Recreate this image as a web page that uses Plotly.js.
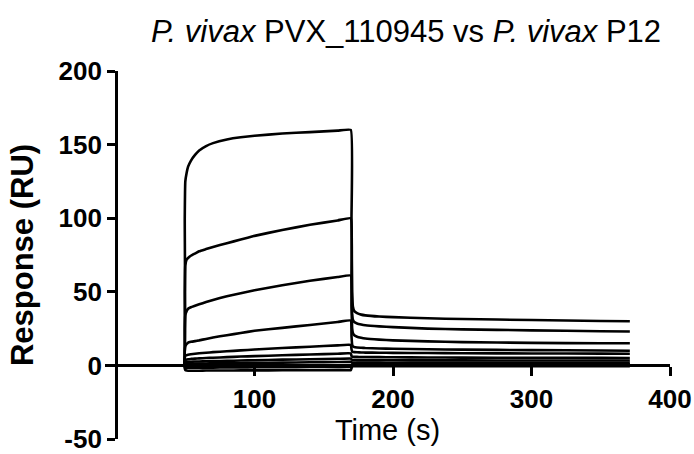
<!DOCTYPE html>
<html>
<head>
<meta charset="utf-8">
<script src="https://cdn.plot.ly/plotly-3.0.1.min.js"></script>
<style>html,body{margin:0;padding:0;background:#fff;}#chart{width:694px;height:454px;}</style>
</head>
<body>
<div id="chart"></div>
<script>
// Time points (s)
const time = [-8, 48, 49.3, 49.6, 50, 51, 52, 54, 57, 60, 65, 70, 80, 90, 100, 120, 140, 160, 169.5,
  170, 170.5, 171, 172, 174, 177, 180, 190, 200, 225, 250, 300, 350, 371];

// Response (RU) for each concentration, highest to lowest
const curveA = [0,0,0, 100,125,131,135,139,143,146,149,151,153.5,155,156,157.5,158.5,159.5,160,
  100,50,40,37,35.5,34.5,34,33.2,32.8,32,31.5,30.8,30.2,30];
const curveB = [0,0,0, 50,68,72,73,74.5,76,77.5,79,80.5,83,85.5,88,92,95.5,98.5,100,
  60,35,31,29.5,28.5,27.8,27.3,26.5,26,25,24.5,23.8,23.2,23];
const curveC = [0,0,0, 25,34,37,38.5,39.5,40.5,41.5,43,44.5,47,49,51,54.5,57.5,60,61,
  40,25,22,20.5,19.5,18.8,18.3,17.5,17,16.3,15.8,15.3,15,15];
const curveD = [0,0,0, 10,13,14.5,15.5,16,16.5,17,18,19,20.5,22,23.5,25.5,27.5,29.5,30.5,
  20,14,13,12.5,12.2,12,11.8,11.5,11.3,11,10.7,10.4,10.1,10];
const curveE = [0,0,0, 5,6.5,7,7.3,7.6,7.9,8.2,8.6,9,9.6,10.2,10.8,11.8,12.7,13.6,14,
  11,9.5,9.2,9,8.9,8.8,8.7,8.6,8.5,8.4,8.3,8.1,8,7.9];
const curveF = [0,0,0, 3,3.6,4,4.2,4.4,4.6,4.8,5,5.2,5.6,6,6.3,6.9,7.4,7.9,8.2,
  6.5,6,5.9,5.8,5.8,5.7,5.7,5.6,5.5,5.4,5.3,5.2,5.1,5];
const curveG = [0,0,0, 1.5,2,2.3,2.4,2.5,2.6,2.7,2.8,2.9,3.1,3.3,3.5,3.9,4.2,4.5,4.7,
  4,3.8,3.7,3.7,3.6,3.6,3.6,3.5,3.5,3.4,3.4,3.3,3.3,3.3];
const curveH = [0,0,0, 0.5,0.8,1,1.1,1.1,1.2,1.2,1.3,1.4,1.5,1.6,1.7,1.9,2.1,2.3,2.4,
  2.2,2,2,2,1.9,1.9,1.9,1.9,1.8,1.8,1.8,1.7,1.7,1.7];
const curveI = [0,0,0, -1,-1.5,-1.6,-1.6,-1.6,-1.6,-1.5,-1.5,-1.5,-1.4,-1.4,-1.3,-1.2,-1.1,-1,-1,
  0,0.8,1,1,1,1,1,0.9,0.9,0.9,0.8,0.8,0.8,0.8];
const curveJ = [0,0,0, -2,-3.2,-3.5,-3.6,-3.6,-3.6,-3.6,-3.5,-3.5,-3.5,-3.4,-3.4,-3.3,-3.3,-3.2,-3.2,
  -2,-0.8,-0.6,-0.5,-0.5,-0.5,-0.5,-0.5,-0.5,-0.5,-0.5,-0.5,-0.5,-0.5];

const curves = [curveA, curveB, curveC, curveD, curveE, curveF, curveG, curveH, curveI, curveJ];

const xTicks = [100, 200, 300, 400];
const yTicks = [-50, 0, 50, 100, 150, 200];

const FONT = '"Liberation Sans", Arial, sans-serif';

const traces = curves.map(c => ({
  x: time, y: c, type: 'scatter', mode: 'lines',
  line: {color: '#000', width: 2.6, shape: 'spline', smoothing: 0.3},
  hoverinfo: 'skip', showlegend: false
}));

const xMin = -8, xMax = 400, yMin = -50, yMax = 200;

const layout = {
  width: 694, height: 454,
  margin: {l: 105, r: 24, t: 71, b: 15},
  paper_bgcolor: '#fff', plot_bgcolor: '#fff',
  font: {family: FONT, color: '#000'},
  title: {
    text: '<i>P. vivax</i> PVX_110945 vs <i>P. vivax</i> P12',
    font: {family: FONT, size: 31, color: '#000'},
    x: 406/694, xanchor: 'center', xref: 'container',
    y: 1 - 31/454, yanchor: 'middle', yref: 'container'
  },
  xaxis: {
    range: [xMin, xMax],
    anchor: 'free', position: (0 - yMin) / (yMax - yMin),
    showgrid: false, zeroline: false,
    showline: true, linecolor: '#000', linewidth: 3,
    ticks: 'outside', ticklen: 9, tickwidth: 3, tickcolor: '#000',
    tickvals: xTicks, ticktext: xTicks.map(String),
    tickfont: {family: FONT, size: 26, color: '#000', weight: 'bold'},
    title: {text: 'Time (s)', font: {family: FONT, size: 29, color: '#000'}, standoff: 3},
    automargin: false, fixedrange: true
  },
  yaxis: {
    range: [yMin, yMax],
    anchor: 'free', position: (0 - xMin) / (xMax - xMin),
    showgrid: false, zeroline: false,
    showline: true, linecolor: '#000', linewidth: 3,
    ticks: 'outside', ticklen: 8, tickwidth: 3, tickcolor: '#000',
    tickvals: yTicks, ticktext: yTicks.map(String),
    ticklabeloverflow: 'allow',
    tickfont: {family: FONT, size: 26, color: '#000', weight: 'bold'},
    title: {text: '<b>Response (RU)</b>', font: {family: FONT, size: 31, color: '#000'}, standoff: 14},
    automargin: false, fixedrange: true
  }
};

Plotly.newPlot('chart', traces, layout, {displayModeBar: false, staticPlot: true});
</script>
</body>
</html>
